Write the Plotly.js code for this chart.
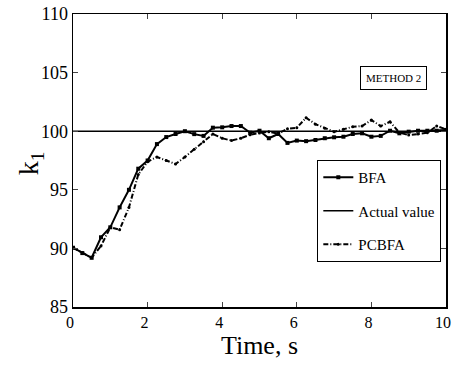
<!DOCTYPE html>
<html>
<head>
<meta charset="utf-8">
<script src="https://cdn.plot.ly/plotly-3.0.1.min.js"></script>
<style>html,body{margin:0;padding:0;background:#fff;}#chart{width:452px;height:367px;}</style>
</head>
<body>
<div id="chart"></div>
<script>
var time = [0,0.25,0.5,0.75,1,1.25,1.5,1.75,2,2.25,2.5,2.75,3,3.25,3.5,3.75,4,4.25,4.5,4.75,5,5.25,5.5,5.75,6,6.25,6.5,6.75,7,7.25,7.5,7.75,8,8.25,8.5,8.75,9,9.25,9.5,9.75,10];
var bfa = [90.06,89.6,89.2,90.95,91.8,93.5,95.0,96.8,97.5,98.9,99.5,99.76,100.0,99.75,99.6,100.3,100.33,100.44,100.44,99.87,100.04,99.4,99.76,99.0,99.2,99.15,99.25,99.4,99.48,99.53,99.76,99.82,99.53,99.6,100.04,99.82,99.96,100.04,100.04,100.04,100.1];
var pcbfa = [90.06,89.6,89.2,90.2,91.8,91.6,93.5,96.3,97.4,97.8,97.5,97.2,97.8,98.45,99.1,99.76,99.4,99.2,99.4,99.7,99.85,99.95,99.8,100.2,100.3,101.15,100.6,100.25,99.96,100.16,100.38,100.44,100.95,100.44,100.8,99.87,99.67,99.76,99.87,100.44,100.16];
var actualTime = [0,10];
var actualValue = [100,100];
var xTicks = [0,2,4,6,8,10];
var yTicks = [85,90,95,100,105,110];

var font = '"Liberation Serif", "Times New Roman", serif';
var traces = [
  {x: time, y: bfa, name: 'BFA', mode: 'lines+markers', legendgroup: 'a',
   line: {color: '#000', width: 2}, marker: {color: '#000', size: 4, symbol: 'square'}},
  {x: actualTime, y: actualValue, name: 'Actual value', mode: 'lines', legendgroup: 'b',
   line: {color: '#000', width: 1.5}},
  {x: time, y: pcbfa, name: 'PCBFA', mode: 'lines+markers', legendgroup: 'c',
   line: {color: '#000', width: 2, dash: '5px,2px,1px,2px'}, marker: {color: '#000', size: 3}}
];
var layout = {
  width: 452, height: 367,
  margin: {l: 73, r: 6, t: 14, b: 60, autoexpand: false},
  paper_bgcolor: '#fff', plot_bgcolor: '#fff',
  showlegend: true,
  font: {family: font, color: '#000', size: 16},
  xaxis: {range: [0, 10], tickvals: xTicks, ticks: 'inside', ticklen: 5, mirror: 'ticks',
    showline: true, linecolor: '#000', linewidth: 1.5, showgrid: false, zeroline: false,
    automargin: false, ticklabeloverflow: 'allow', ticklabelshift: -3,
    tickfont: {family: font, size: 16},
    title: {text: 'Time, s', font: {family: font, size: 26}, standoff: 0}},
  yaxis: {range: [85, 110], tickvals: yTicks, ticks: 'inside', ticklen: 5, mirror: 'ticks',
    showline: true, linecolor: '#000', linewidth: 1.5, showgrid: false, zeroline: false,
    automargin: false, ticklabeloverflow: 'allow', tickfont: {family: font, size: 18}},
  legend: {x: 0.655, y: 0.502, xanchor: 'left', yanchor: 'top', bgcolor: '#fff',
    bordercolor: '#000', borderwidth: 1, font: {family: font, size: 15}, itemwidth: 30,
    tracegroupgap: 11},
  annotations: [
    {x: 8.59, y: 104.58, xref: 'x', yref: 'y', text: 'METHOD 2', showarrow: false,
     font: {family: font, size: 11, color: '#000'}, bordercolor: '#000', borderwidth: 1,
     borderpad: 5, bgcolor: '#fff'},
    {x: -0.113, y: 0.49, xref: 'paper', yref: 'paper', text: 'k<sub>1</sub>', showarrow: false,
     textangle: -90, xanchor: 'center', yanchor: 'middle',
     font: {family: font, size: 28, color: '#000'}}
  ]
};
Plotly.newPlot('chart', traces, layout, {displayModeBar: false, staticPlot: true});
</script>
</body>
</html>
